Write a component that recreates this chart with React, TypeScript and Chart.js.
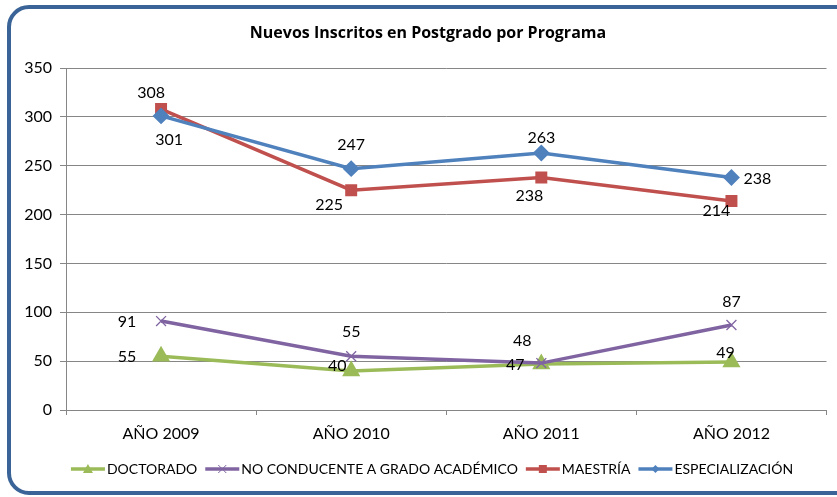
import React, { useEffect, useRef } from "react";
import { Chart, registerables } from "chart.js";

Chart.register(...registerables);

const TITLE = "Nuevos Inscritos en Postgrado por Programa";
const CATEGORIES = ["AÑO 2009", "AÑO 2010", "AÑO 2011", "AÑO 2012"];
const DOCTORADO = [55, 40, 47, 49];
const NO_CONDUCENTE = [91, 55, 48, 87];
const MAESTRIA = [308, 225, 238, 214];
const ESPECIALIZACION = [301, 247, 263, 238];
const Y_TICKS = [0, 50, 100, 150, 200, 250, 300, 350];

// label offsets (style only) relative to point, per dataset
const LABEL_OFFSETS: Record<string, [number, number][]> = {
  DOCTORADO: [[-34, 1], [-14, -5], [-26, 1], [-6, -9]],
  "NO CONDUCENTE A GRADO ACADÉMICO": [[-34, 1], [0, -24], [-19, -22], [0, -23]],
  "MAESTRÍA": [[-10, -16], [-22, 15], [-12, 18], [-15, 10]],
  "ESPECIALIZACIÓN": [[8, 24], [0, -24], [0, -15], [26, 1]],
};

const FONT = "Lato, 'Open Sans', sans-serif";
const TITLE_FONT = "'Open Sans', Lato, sans-serif";

const LEGEND_ORDER = ["DOCTORADO", "NO CONDUCENTE A GRADO ACADÉMICO", "MAESTRÍA", "ESPECIALIZACIÓN"];

const framePlugin = {
  id: "frame",
  beforeDraw(chart: any) {
    const { ctx } = chart;
    ctx.save();
    ctx.fillStyle = "#ffffff";
    ctx.fillRect(0, 0, chart.width, chart.height);
    ctx.strokeStyle = "#3A6497";
    ctx.lineWidth = 4;
    const x = 9, y = 7, w = 860, h = 486, r = 20;
    ctx.beginPath();
    ctx.moveTo(x + r, y);
    ctx.lineTo(x + w - r, y);
    ctx.arcTo(x + w, y, x + w, y + r, r);
    ctx.lineTo(x + w, y + h - r);
    ctx.arcTo(x + w, y + h, x + w - r, y + h, r);
    ctx.lineTo(x + r, y + h);
    ctx.arcTo(x, y + h, x, y + h - r, r);
    ctx.lineTo(x, y + r);
    ctx.arcTo(x, y, x + r, y, r);
    ctx.closePath();
    ctx.stroke();
    // title
    ctx.fillStyle = "#000";
    ctx.font = `bold 16px ${TITLE_FONT}`;
    ctx.textAlign = "center";
    ctx.textBaseline = "middle";
    ctx.fillText(TITLE, 428, 33);
    ctx.restore();
  },
};

const labelsPlugin = {
  id: "valueLabels",
  afterDatasetsDraw(chart: any) {
    const { ctx } = chart;
    ctx.save();
    ctx.font = `16px ${FONT}`;
    ctx.fillStyle = "#000";
    ctx.textAlign = "center";
    ctx.textBaseline = "middle";
    chart.data.datasets.forEach((ds: any, i: number) => {
      const meta = chart.getDatasetMeta(i);
      const offs = LABEL_OFFSETS[ds.label] || [];
      meta.data.forEach((pt: any, j: number) => {
        const o = offs[j] || [0, -20];
        ctx.fillText(String(ds.data[j]), pt.x + o[0], pt.y + o[1]);
      });
    });
    ctx.restore();
  },
};

const legendPlugin = {
  id: "customLegend",
  afterDraw(chart: any) {
    const { ctx } = chart;
    ctx.save();
    ctx.font = `14px ${FONT}`;
    ctx.textBaseline = "middle";
    const lineW = 34, gap = 2, itemGap = 8;
    const items = LEGEND_ORDER.map((label) =>
      chart.data.datasets.find((d: any) => d.label === label)
    );
    let total = 0;
    items.forEach((d: any, k: number) => {
      total += lineW + gap + ctx.measureText(d.label).width + (k < items.length - 1 ? itemGap : 0);
    });
    let x = 432 - total / 2;
    const y = 469;
    items.forEach((d: any) => {
      ctx.strokeStyle = d.borderColor;
      ctx.lineWidth = 3.5;
      ctx.beginPath();
      ctx.moveTo(x, y);
      ctx.lineTo(x + lineW, y);
      ctx.stroke();
      const cx = x + lineW / 2;
      ctx.fillStyle = d.pointBackgroundColor;
      ctx.strokeStyle = d.pointBorderColor;
      if (d.pointStyle === "triangle") {
        ctx.beginPath();
        ctx.moveTo(cx, y - 5);
        ctx.lineTo(cx + 5, y + 4);
        ctx.lineTo(cx - 5, y + 4);
        ctx.closePath();
        ctx.fill();
      } else if (d.pointStyle === "rect") {
        ctx.fillRect(cx - 4, y - 4, 8, 8);
      } else if (d.pointStyle === "rectRot") {
        ctx.beginPath();
        ctx.moveTo(cx, y - 4);
        ctx.lineTo(cx + 4, y);
        ctx.lineTo(cx, y + 4);
        ctx.lineTo(cx - 4, y);
        ctx.closePath();
        ctx.fill();
      } else if (d.pointStyle === "crossRot") {
        ctx.lineWidth = 1;
        ctx.beginPath();
        ctx.moveTo(cx - 4, y - 4);
        ctx.lineTo(cx + 4, y + 4);
        ctx.moveTo(cx + 4, y - 4);
        ctx.lineTo(cx - 4, y + 4);
        ctx.stroke();
      }
      x += lineW + gap;
      ctx.fillStyle = "#000";
      ctx.textAlign = "left";
      ctx.fillText(d.label, x, y + 0.5);
      x += ctx.measureText(d.label).width + itemGap;
    });
    ctx.restore();
  },
};

export default function App() {
  const ref = useRef<HTMLCanvasElement | null>(null);
  useEffect(() => {
    document.body.style.margin = "0";
    const canvas = ref.current!;
    const chart = new Chart(canvas, {
      type: "line",
      data: {
        labels: CATEGORIES,
        datasets: [
          {
            label: "DOCTORADO",
            data: DOCTORADO,
            borderColor: "#9BBB59",
            backgroundColor: "#9BBB59",
            pointBackgroundColor: "#9BBB59",
            pointBorderColor: "#9BBB59",
            pointStyle: "triangle",
            pointRadius: 7,
            borderWidth: 3.5,
            order: 3,
          },
          {
            label: "NO CONDUCENTE A GRADO ACADÉMICO",
            data: NO_CONDUCENTE,
            borderColor: "#8064A2",
            backgroundColor: "#8064A2",
            pointBackgroundColor: "#8064A2",
            pointBorderColor: "#8064A2",
            pointStyle: "crossRot",
            pointRadius: 7,
            pointBorderWidth: 1.3,
            borderWidth: 3.5,
            order: 2,
          },
          {
            label: "MAESTRÍA",
            data: MAESTRIA,
            borderColor: "#C0504D",
            backgroundColor: "#C0504D",
            pointBackgroundColor: "#C0504D",
            pointBorderColor: "#C0504D",
            pointStyle: "rect",
            pointRadius: 6,
            borderWidth: 3.5,
            order: 1,
          },
          {
            label: "ESPECIALIZACIÓN",
            data: ESPECIALIZACION,
            borderColor: "#4F81BD",
            backgroundColor: "#4F81BD",
            pointBackgroundColor: "#4F81BD",
            pointBorderColor: "#4F81BD",
            pointStyle: "rectRot",
            pointRadius: 6,
            borderWidth: 3.5,
            order: 0,
          },
        ],
      },
      options: {
        animation: false,
        responsive: false,
        maintainAspectRatio: false,
        layout: { padding: { left: 0, top: 68, right: 9, bottom: 0 } },
        plugins: {
          legend: { display: false },
          title: { display: false },
          tooltip: { enabled: false },
        },
        elements: { line: { tension: 0 } },
        scales: {
          x: {
            offset: true,
            grid: {
              offset: true,
              drawOnChartArea: false,
              drawTicks: true,
              tickLength: 5,
              color: "#868686",
            },
            border: { color: "#868686", width: 1 },
            ticks: {
              color: "#000",
              font: { family: FONT, size: 16 },
              padding: 9,
              maxRotation: 0,
            },
            afterFit(s: any) {
              s.height = 87;
            },
          },
          y: {
            min: 0,
            max: 350,
            afterBuildTicks(s: any) {
              s.ticks = Y_TICKS.map((v) => ({ value: v }));
            },
            grid: { color: "#868686", tickLength: 6, lineWidth: 1 },
            border: { color: "#868686", width: 1 },
            ticks: {
              color: "#000",
              font: { family: FONT, size: 16 },
              padding: 8,
            },
            afterFit(s: any) {
              s.width = 66;
            },
          },
        },
      },
      plugins: [framePlugin, labelsPlugin, legendPlugin],
    });
    return () => chart.destroy();
  }, []);
  return <canvas ref={ref} width={837} height={497} style={{ display: "block" }} />;
}
